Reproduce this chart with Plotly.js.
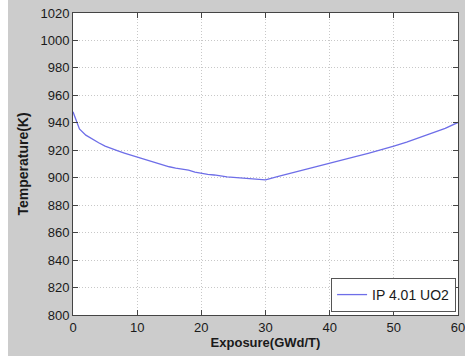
<!DOCTYPE html>
<html>
<head>
<meta charset="utf-8">
<script src="https://cdn.plot.ly/plotly-3.0.1.min.js"></script>
<style>
html,body{margin:0;padding:0;background:#ffffff;}
#chart{position:absolute;left:8px;top:0;width:457px;height:356px;}
</style>
</head>
<body>
<div id="chart"></div>
<script>
const exposure = [0,0.5,1,2,3,4,5,6,7,8,9,10,11,12,13,14,15,16,17,18,19,20,21,22,23,24,25,26,27,28,29,30,32,34,36,38,40,42,44,46,48,50,52,54,56,58,60];
const temperature = [948,941,935.5,931,928,925.5,923,921,919.5,918,916.5,915,913.5,912,910.5,909,908,907,906.5,905.5,904,903,902.5,902,901.2,900.6,900.2,899.8,899.5,899.2,898.9,898.5,901,903.3,905.6,908,910.3,912.8,915.3,917.8,920.3,923,926,929.2,932.5,936,940.3];
const seriesName = 'IP 4.01 UO2';
const xTicks = [0,10,20,30,40,50,60];
const yTicks = [800,820,840,860,880,900,920,940,960,980,1000,1020];

const trace = {
  x: exposure, y: temperature, type: 'scatter', mode: 'lines', name: seriesName,
  line: {color: '#6e6ee8', width: 1.3}
};
const axisCommon = {
  showline: true, mirror: 'ticks', linecolor: '#444', linewidth: 1,
  ticks: 'inside', ticklen: 5, tickcolor: '#444',
  showgrid: true, gridcolor: '#c8c8c8', griddash: '1px,2px', gridwidth: 1,
  zeroline: false, ticklabeloverflow: 'allow',
  tickfont: {family: 'Liberation Sans, Arial, sans-serif', size: 13, color: '#1a1a1a'}
};
const layout = {
  width: 457, height: 356,
  margin: {l: 65, r: 7, t: 13, b: 41},
  paper_bgcolor: '#cccccc', plot_bgcolor: '#ffffff',
  showlegend: true,
  legend: {
    x: 0.995, y: 0.01, xanchor: 'right', yanchor: 'bottom',
    bgcolor: '#ffffff', bordercolor: '#555', borderwidth: 1,
    font: {family: 'Liberation Sans, Arial, sans-serif', size: 14, color: '#1a1a1a'}
  },
  xaxis: Object.assign({}, axisCommon, {
    range: [0, 60], tickvals: xTicks, ticktext: xTicks.map(String),
    title: {text: 'Exposure(GWd/T)', standoff: 2,
      font: {family: 'Liberation Sans, Arial, sans-serif', size: 13, color: '#1a1a1a', weight: 'bold'}}
  }),
  yaxis: Object.assign({}, axisCommon, {
    range: [800, 1020], tickvals: yTicks, ticktext: yTicks.map(String),
    title: {text: 'Temperature(K)', standoff: 8,
      font: {family: 'Liberation Sans, Arial, sans-serif', size: 14, color: '#1a1a1a', weight: 'bold'}}
  })
};
Plotly.newPlot('chart', [trace], layout, {displayModeBar: false, staticPlot: true});
</script>
</body>
</html>
